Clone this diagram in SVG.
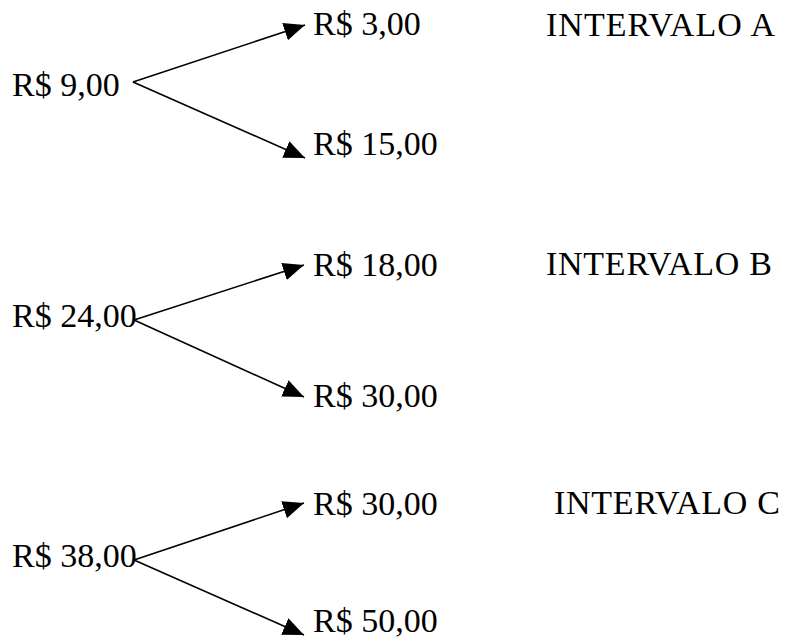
<svg xmlns="http://www.w3.org/2000/svg" width="786" height="638" viewBox="0 0 786 638">
<style>
text{font-family:"Liberation Serif","Times New Roman",serif;font-size:34px;fill:#000}
.c{stroke:#000;stroke-width:1.6;fill:none;marker-end:url(#ah)}
</style>
<defs>
<marker id="ah" markerUnits="userSpaceOnUse" markerWidth="22" markerHeight="19" viewBox="0 0 22 19" refX="21" refY="9" orient="auto"><path d="M0,0 L21,9 L0,18 z" fill="#000"/></marker>
</defs>
<rect width="786" height="638" fill="#fff"/>
<g id="connectors">
<line class="c" x1="133" y1="82" x2="305" y2="25"/>
<line class="c" x1="133" y1="82" x2="305" y2="158"/>
<line class="c" x1="134" y1="320" x2="304" y2="265"/>
<line class="c" x1="134" y1="320" x2="304" y2="397"/>
<line class="c" x1="134" y1="560" x2="304" y2="503"/>
<line class="c" x1="134" y1="560" x2="304" y2="635"/>
</g>
<g id="n9"><text x="12" y="96">R$ 9,00</text></g>
<g id="n3"><text x="313" y="35">R$ 3,00</text></g>
<g id="n15"><text x="313" y="155">R$ 15,00</text></g>
<g id="intA"><text x="546" y="36" textLength="229" lengthAdjust="spacing">INTERVALO A</text></g>
<g id="n24"><text x="12" y="327">R$ 24,00</text></g>
<g id="n18"><text x="313" y="276">R$ 18,00</text></g>
<g id="n30a"><text x="313" y="407">R$ 30,00</text></g>
<g id="intB"><text x="546" y="275" textLength="226" lengthAdjust="spacing">INTERVALO B</text></g>
<g id="n38"><text x="12" y="567">R$ 38,00</text></g>
<g id="n30b"><text x="313" y="515">R$ 30,00</text></g>
<g id="n50"><text x="313" y="632">R$ 50,00</text></g>
<g id="intC"><text x="554" y="514" textLength="226" lengthAdjust="spacing">INTERVALO C</text></g>
</svg>
